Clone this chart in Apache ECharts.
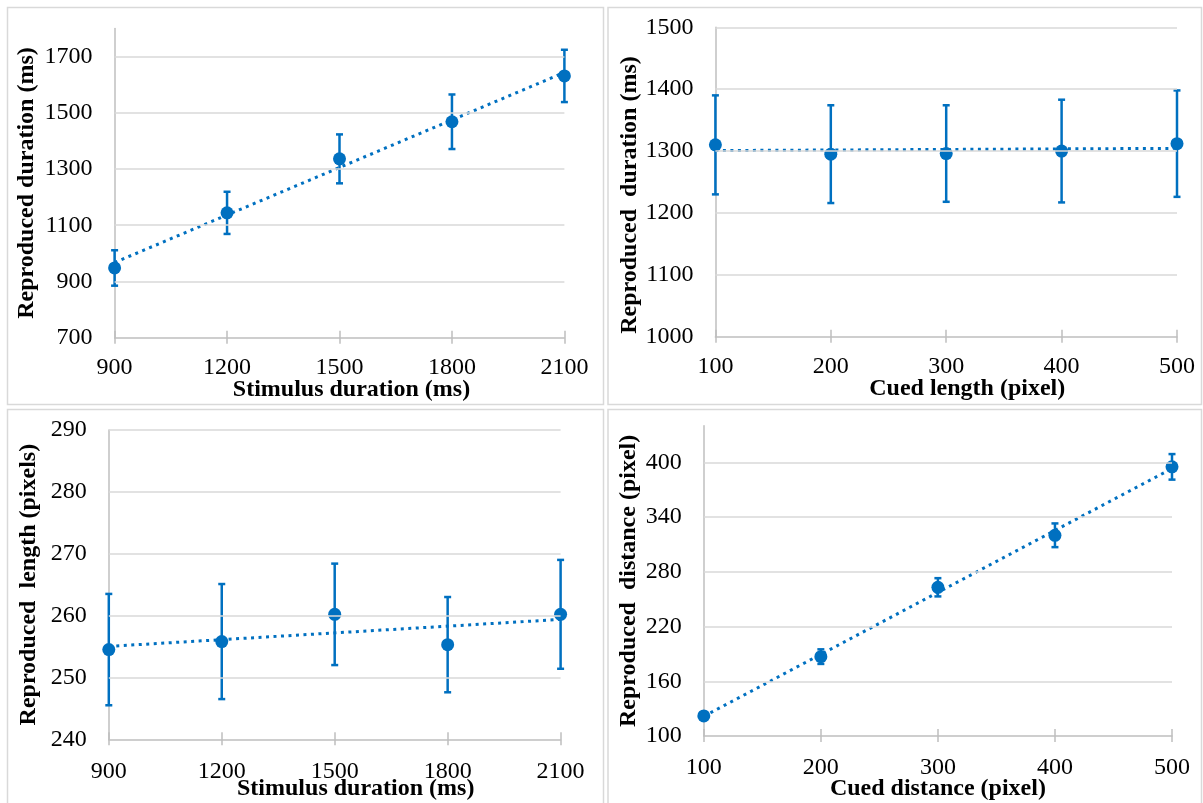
<!DOCTYPE html>
<html>
<head>
<meta charset="utf-8">
<script src="https://cdn.jsdelivr.net/npm/echarts@6/dist/echarts.min.js"></script>
<style>
html,body{margin:0;padding:0;background:#fff;}
#chart{width:1203px;height:803px;}
</style>
</head>
<body>
<div id="chart"></div>
<script>
// ---------- data ----------
const durationX = [900, 1200, 1500, 1800, 2100];
const lengthX = [100, 200, 300, 400, 500];

// Panel A: Stimulus duration -> Reproduced duration (ms)
const pA_mean = [948, 1144, 1336, 1468, 1631];
const pA_err  = [63, 75, 87, 97, 93];
const pA_yTicks = [700, 900, 1100, 1300, 1500, 1700];

// Panel B: Cued length -> Reproduced duration (ms)
const pB_mean = [1310, 1295, 1296, 1300, 1312];
const pB_err  = [80, 79, 78, 83, 86];
const pB_yTicks = [1000, 1100, 1200, 1300, 1400, 1500];

// Panel C: Stimulus duration -> Reproduced length (pixels)
const pC_mean = [254.5, 255.8, 260.2, 255.3, 260.2];
const pC_err  = [9.0, 9.3, 8.2, 7.7, 8.8];
const pC_yTicks = [240, 250, 260, 270, 280, 290];

// Panel D: Cued distance -> Reproduced distance (pixel)
const pD_mean = [122, 187, 263, 320, 395];
const pD_err  = [4, 8, 10, 13, 14];
const pD_yTicks = [100, 160, 220, 280, 340, 400];

const BLUE = '#0070C0';
const FONT = "'Liberation Serif', 'Times New Roman', serif";
const GRID_C = '#d9d9d9';
const AXIS_C = '#bfbfbf';

function linreg(xs, ys) {
  const n = xs.length;
  const mx = xs.reduce((a, b) => a + b, 0) / n;
  const my = ys.reduce((a, b) => a + b, 0) / n;
  let sxy = 0, sxx = 0;
  for (let i = 0; i < n; i++) { sxy += (xs[i] - mx) * (ys[i] - my); sxx += (xs[i] - mx) ** 2; }
  const b = sxy / sxx, a = my - b * mx;
  return [[xs[0], a + b * xs[0]], [xs[n - 1], a + b * xs[n - 1]]];
}

function errorBarItem(params, api) {
  const x = api.value(0), lo = api.value(1), hi = api.value(2);
  const pLo = api.coord([x, lo]), pHi = api.coord([x, hi]);
  const cap = 3.5;
  const style = { stroke: BLUE, lineWidth: 2.5, fill: null };
  return {
    type: 'group',
    children: [
      { type: 'line', shape: { x1: pLo[0], y1: pLo[1], x2: pHi[0], y2: pHi[1] }, style },
      { type: 'line', shape: { x1: pLo[0] - cap, y1: pLo[1], x2: pLo[0] + cap, y2: pLo[1] }, style },
      { type: 'line', shape: { x1: pHi[0] - cap, y1: pHi[1], x2: pHi[0] + cap, y2: pHi[1] }, style }
    ]
  };
}

const panels = [
  { xs: durationX, ys: pA_mean, err: pA_err, yTicks: pA_yTicks, xmin: 900, xmax: 2100, xint: 300,
    ymin: 700, ymax: 1800, yint: 200,
    xname: 'Stimulus duration (ms)', yname: 'Reproduced duration (ms)',
    grid: { left: 114.6, right: 638.6, top: 28.4, bottom: 465.3 },
    xpad: [0, 0, 0, 24], ypad: [0, 0, 0, 0], ygap: 76, xgap: 40, lblMargin: 18 },
  { xs: lengthX, ys: pB_mean, err: pB_err, yTicks: pB_yTicks, xmin: 100, xmax: 500, xint: 100,
    ymin: 1000, ymax: 1500, yint: 100,
    xname: 'Cued length (pixel)', yname: 'Reproduced  duration (ms)',
    grid: { left: 715.4, right: 26, top: 27.3, bottom: 466.3 },
    xpad: [0, 0, 0, 42], ypad: [0, 26, 0, 0], ygap: 74, xgap: 40, lblMargin: 18 },
  { xs: durationX, ys: pC_mean, err: pC_err, yTicks: pC_yTicks, xmin: 900, xmax: 2100, xint: 300,
    ymin: 240, ymax: 290, yint: 10,
    xname: 'Stimulus duration (ms)', yname: 'Reproduced  length (pixels)',
    grid: { left: 108.8, right: 642.4, top: 430, bottom: 63.7 },
    xpad: [0, 0, 0, 42], ypad: [0, 0, 0, 0], ygap: 68, xgap: 37, lblMargin: 20 },
  { xs: lengthX, ys: pD_mean, err: pD_err, yTicks: pD_yTicks, xmin: 100, xmax: 500, xint: 100,
    ymin: 100, ymax: 440, yint: 60,
    xname: 'Cued distance (pixel)', yname: 'Reproduced  distance (pixel)',
    grid: { left: 703.8, right: 31, top: 425.8, bottom: 67 },
    xpad: [0, 0, 0, 0], ypad: [0, 0, 0, 0], ygap: 63, xgap: 41, lblMargin: 20 }
];

const option = {
  backgroundColor: '#fff',
  animation: false,
  grid: [], xAxis: [], yAxis: [], series: [],
  graphic: [
    { type: 'rect', shape: { x: 7.5, y: 7.5, width: 596, height: 397 }, style: { fill: null, stroke: GRID_C, lineWidth: 1.5 }, z: 0 },
    { type: 'rect', shape: { x: 608, y: 7.5, width: 593.5, height: 397 }, style: { fill: null, stroke: GRID_C, lineWidth: 1.5 }, z: 0 },
    { type: 'rect', shape: { x: 7.5, y: 409.5, width: 596, height: 400 }, style: { fill: null, stroke: GRID_C, lineWidth: 1.5 }, z: 0 },
    { type: 'rect', shape: { x: 608, y: 409.5, width: 593.5, height: 400 }, style: { fill: null, stroke: GRID_C, lineWidth: 1.5 }, z: 0 }
  ]
};

panels.forEach((p, i) => {
  option.grid.push(Object.assign({ containLabel: false, outerBoundsMode: 'none' }, p.grid));
  const tickSet = p.yTicks;
  // main x axis
  option.xAxis.push({
    type: 'value', gridIndex: i, position: 'bottom', min: p.xmin, max: p.xmax, interval: p.xint,
    name: p.xname, nameLocation: 'middle', nameGap: p.xgap, nameMoveOverlap: false,
    nameTextStyle: { fontFamily: FONT, fontSize: 24, fontWeight: 'bold', color: '#000', padding: p.xpad },
    axisLine: { show: true, onZero: false, lineStyle: { color: AXIS_C, width: 1.5 } },
    axisTick: { show: true, inside: false, length: 6, lineStyle: { color: AXIS_C, width: 1.5 } },
    axisLabel: { fontFamily: FONT, fontSize: 24, color: '#000', margin: p.lblMargin, formatter: v => String(v) },
    splitLine: { show: false }
  });
  // inner tick overlay axis (cross ticks)
  option.xAxis.push({
    type: 'value', gridIndex: i, position: 'bottom', offset: 0, min: p.xmin, max: p.xmax, interval: p.xint,
    axisLine: { show: false, onZero: false },
    axisTick: { show: true, inside: true, length: 7, lineStyle: { color: AXIS_C, width: 1.5 } },
    axisLabel: { show: false }, splitLine: { show: false }
  });
  option.yAxis.push({
    type: 'value', gridIndex: i, min: p.ymin, max: p.ymax, interval: p.yint,
    name: p.yname, nameLocation: 'middle', nameGap: p.ygap, nameRotate: 90, nameMoveOverlap: false,
    nameTextStyle: { fontFamily: FONT, fontSize: 24, fontWeight: 'bold', color: '#000', padding: p.ypad },
    axisLine: { show: true, onZero: false, lineStyle: { color: AXIS_C, width: 1.5 } },
    axisTick: { show: false },
    axisLabel: { fontFamily: FONT, fontSize: 24, color: '#000', margin: 22,
      formatter: v => tickSet.indexOf(v) >= 0 ? String(v) : '' },
    splitLine: { show: false }
  });
  const xAxisIndex = i * 2;
  // gridlines (only at labelled ticks)
  option.series.push({
    type: 'line', xAxisIndex, yAxisIndex: i, data: [], silent: true, z: 1,
    markLine: {
      silent: true, symbol: 'none', animation: false,
      label: { show: false },
      lineStyle: { color: GRID_C, width: 1.5, type: 'solid' },
      emphasis: { disabled: true },
      data: tickSet.slice(1).map(v => ({ yAxis: v }))
    }
  });
  // trend line
  option.series.push({
    type: 'line', xAxisIndex, yAxisIndex: i,
    data: linreg(p.xs, p.ys), symbol: 'none', silent: true,
    lineStyle: { color: BLUE, width: 3, type: [3, 4.5], cap: 'butt' }, z: 2
  });
  // error bars
  option.series.push({
    type: 'custom', xAxisIndex, yAxisIndex: i,
    data: p.xs.map((x, k) => [x, p.ys[k] - p.err[k], p.ys[k] + p.err[k]]),
    encode: { x: 0, y: [1, 2] },
    renderItem: errorBarItem, z: 3
  });
  // markers
  option.series.push({
    type: 'scatter', xAxisIndex, yAxisIndex: i,
    data: p.xs.map((x, k) => [x, p.ys[k]]),
    symbol: 'circle', symbolSize: 13,
    itemStyle: { color: BLUE, opacity: 1 }, z: 4
  });
});

const chart = echarts.init(document.getElementById('chart'), null, { renderer: 'canvas' });
chart.setOption(option);
</script>
</body>
</html>
